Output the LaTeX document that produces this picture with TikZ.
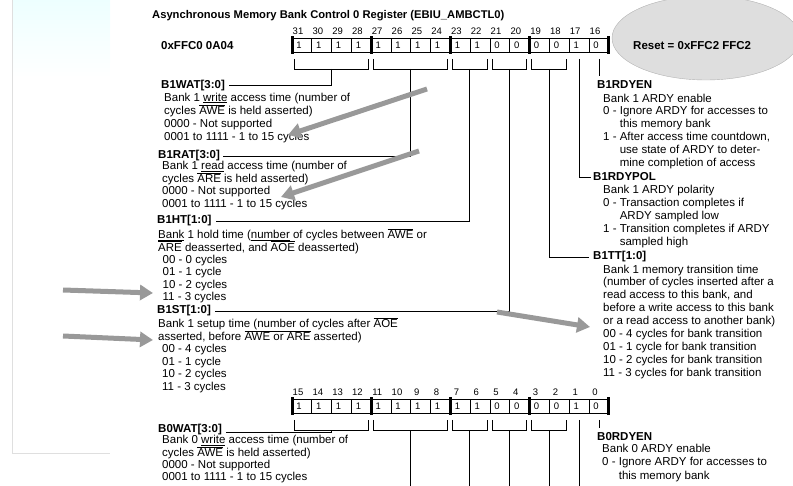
\documentclass[tikz,border=0pt]{standalone}
\usepackage{fontspec}
\setmainfont{Liberation Sans}
\usetikzlibrary{arrows.meta}
\newcommand\barred[1]{$\overline{\mbox{#1}}$}
\lineskiplimit=-20pt

\begin{document}
\begin{tikzpicture}[x=1pt,y=-1pt,
  every node/.style={inner sep=0pt},
  title/.style={font=\fontsize{11.2}{13}\selectfont\bfseries,anchor=base west},
  lbl/.style={font=\fontsize{11.5}{13}\selectfont\bfseries,anchor=base west},
  body/.style={font=\fontsize{11.5}{#1}\selectfont,
    align=left,anchor=north west,execute at begin node={\rule{0pt}{10.5pt}}},
  body/.default=12.7,
  small/.style={font=\fontsize{9.5}{10}\selectfont},
  cell/.style={draw,line width=0.7pt,minimum width=19.8pt,minimum height=14.5pt},
  leader/.style={line width=0.7pt},
  pointer/.style={draw=gray!80,line width=5pt,-{Triangle[length=13pt,width=15pt]}}]
  \useasboundingbox (0,0) rectangle (793,486);
  \clip (0,0) rectangle (793,486);

  % slide frame at the left
  \shade[top color=cyan!7,bottom color=white] (12,0) rectangle (110,78);
  \draw[gray!25] (12,0) -- (12,453) -- (110,453);

  \node[title] (head) at (152,19) {Asynchronous Memory Bank Control 0 Register (EBIU\_AMBCTL0)};
  \node[lbl] (addr) at (161,50) {0xFFC0 0A04};
  \draw[gray!60,fill=black!13] (706,38) ellipse [x radius=94,y radius=42];
  \node[lbl] (reset) at (633,50) {Reset = 0xFFC2 FFC2};

  % the two halves of the register
  \foreach \r/\yy/\hi in {t/45.5/31,b/406.5/15} {
    \foreach \val [count=\i from 0] in {1,1,1,1,1,1,1,1,1,1,0,0,0,0,1,0} {
      \pgfmathtruncatemacro\bit{\hi-\i}
      \node[cell] (\r\i) at ({301.9+19.8*\i},\yy) {};
      \node[small] (\r-v\i) at ({299+19.8*\i},\yy) {\val};
      \node[small] (\r-n\i) at ({298+19.8*\i},{\yy-14.5}) {\bit};
    }
    \foreach \k in {0,4,8,12,16}
      \fill ({292+19.8*\k-1.5},{\yy-9}) rectangle ++(3,18);
  }
  \foreach \n/\yy in {1/69,0/430} {
    \foreach \a/\b/\g in {0/3/wat,4/7/rat,8/9/ht,10/11/st,12/13/tt} {
      \draw[leader] ({292+19.8*\a+2},{\yy-10}) -- ({292+19.8*\a+2},\yy)
        -- ({292+19.8*(\b+1)-3},\yy) -- ({292+19.8*(\b+1)-3},{\yy-10});
      \coordinate (\g\n) at ({292+19.8*(\a+\b+1)/2-0.5},\yy);
    }
  }
  \coordinate (pol1) at (579.1,59);
  \coordinate (en1) at (598.9,59);
  \coordinate (en1end) at (598.9,76);
  \coordinate (pol0) at (579.1,420);
  \coordinate (en0) at (598.9,420);
  \coordinate (en0end) at (598.9,428);
  \coordinate (floor) at (0,486);

  % left column
  \node[lbl] (b1wat) at (161,88.3) {B1WAT[3:0]};
  \node[body=13] (b1watx) at (164,92.5) {Bank 1 \underline{write} access time (number of\\
    cycles \barred{AWE} is held asserted)\\
    0000 - Not supported\\
    0001 to 1111 - 1 to 15 cycles};
  \node[lbl] (b1rat) at (158,159) {B1RAT[3:0]};
  \node[body] (b1ratx) at (162,161) {Bank 1 \underline{read} access time (number of\\
    cycles \barred{ARE} is held asserted)\\
    0000 - Not supported\\
    0001 to 1111 - 1 to 15 cycles};
  \node[lbl] (b1ht) at (157,224) {B1HT[1:0]};
  \node[body=12.4] (b1htx) at (158,228.5) {\underline{Bank} 1 hold time (\underline{number} of cycles between \barred{AWE} or\\
    \barred{ARE} deasserted, and \barred{AOE} deasserted)\\
    \hspace*{4.5pt}00 - 0 cycles\\
    \hspace*{4.5pt}01 - 1 cycle\\
    \hspace*{4.5pt}10 - 2 cycles\\
    \hspace*{4.5pt}11 - 3 cycles};
  \node[lbl] (b1st) at (157,314) {B1ST[1:0]};
  \node[body=12.6] (b1stx) at (158,317.2) {Bank 1 setup time \underline{(number of} cycles after \barred{AOE}\\
    asserted, before \barred{AWE} or \barred{ARE} asserted)\\
    \hspace*{4pt}00 - 4 cycles\\
    \hspace*{4pt}01 - 1 cycle\\
    \hspace*{4pt}10 - 2 cycles\\
    \hspace*{4pt}11 - 3 cycles};
  \node[lbl] (b0wat) at (158,432) {B0WAT[3:0]};
  \node[body=12.3] (b0watx) at (162,435.2) {Bank 0 \underline{write} access time (number of\\
    cycles \barred{AWE} is held asserted)\\
    0000 - Not supported\\
    0001 to 1111 - 1 to 15 cycles};

  % right column
  \node[lbl] (b1rdyen) at (597,89) {B1RDYEN};
  \node[body=12.8] (b1rdyenx) at (603,93.5) {Bank 1 ARDY enable\\
    0 - Ignore ARDY for accesses to\\
    \phantom{0 - }this memory bank\\
    1 - After access time countdown,\\
    \phantom{0 - }use state of ARDY to deter-\\
    \phantom{0 - }mine completion of access};
  \node[lbl] (b1rdypol) at (593,181) {B1RDYPOL};
  \node[body=13] (b1rdypolx) at (603,184.5) {Bank 1 ARDY polarity\\
    0 - Transaction completes if\\
    \phantom{0 - }ARDY sampled low\\
    1 - Transition completes if ARDY\\
    \phantom{0 - }sampled high};
  \node[lbl] (b1tt) at (593,260) {B1TT[1:0]};
  \node[body=12.9] (b1ttx) at (603,264.5) {Bank 1 memory transition time\\
    (number of cycles inserted after a\\
    read access to this bank, and\\
    before a write access to this bank\\
    or a read access to another bank)\\
    00 - 4 cycles for bank transition\\
    01 - 1 cycle for bank transition\\
    10 - 2 cycles for bank transition\\
    11 - 3 cycles for bank transition};
  \node[lbl] (b0rdyen) at (597,440) {B0RDYEN};
  \node[body=13.5] (b0rdyenx) at (602,443.5) {Bank 0 ARDY enable\\
    0 - Ignore ARDY for accesses to\\
    \phantom{0 - }this memory bank};

  % leaders from the bit fields
  \draw[leader] (wat1) |- ([xshift=4pt]b1wat.east);
  \draw[leader] (rat1) |- ([xshift=3pt]b1rat.east);
  \draw[leader] (ht1) |- ([xshift=4pt]b1ht.east);
  \draw[leader] (st1) |- ([xshift=4pt]b1st.east);
  \draw[leader] (tt1) |- ([xshift=-4pt]b1tt.west);
  \draw[leader] (pol1) |- ([xshift=-2pt]b1rdypol.west);
  \draw[leader] (en1) -- (en1end);
  \draw[leader] (wat0) |- ([xshift=4pt,yshift=-3pt]b0wat.east);
  \draw[leader] (rat0) -- (rat0 |- floor);
  \draw[leader] (ht0) -- (ht0 |- floor);
  \draw[leader] (st0) -- (st0 |- floor);
  \draw[leader] (tt0) -- (tt0 |- floor);
  \draw[leader] (pol0) -- (pol0 |- floor);
  \draw[leader] (en0) -- (en0end);

  % grey pointers
  \draw[pointer] (427,89) -- (288,135);
  \draw[pointer] (419,151) -- (281,197);
  \draw[pointer] (63,290) -- (153,293);
  \draw[pointer] (63,336) -- (153,340);
  \draw[pointer] (497,312) -- (590,327);
\end{tikzpicture}
\end{document}
